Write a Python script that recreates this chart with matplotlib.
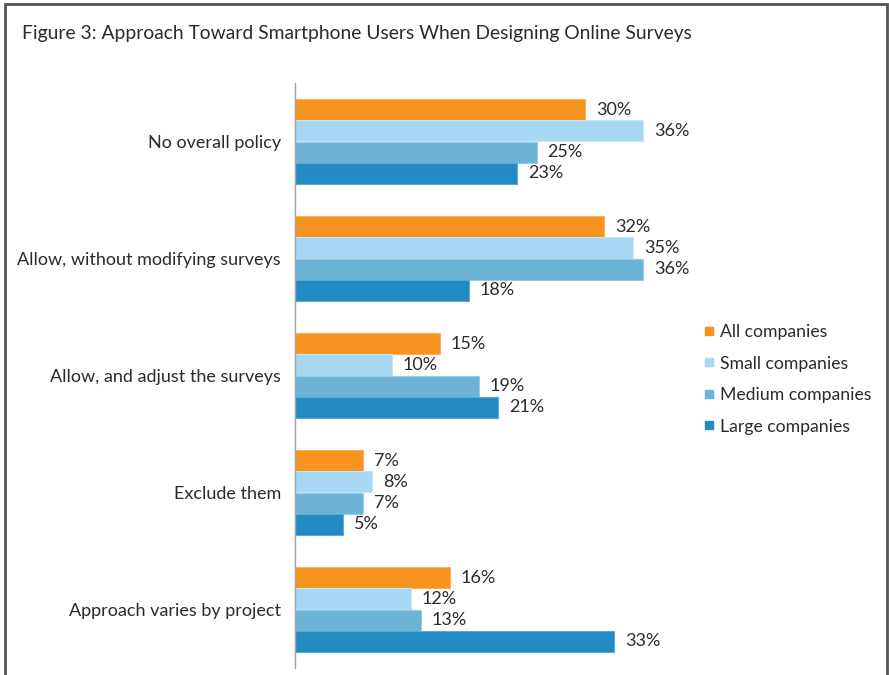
import numpy as np
import matplotlib.pyplot as plt
from matplotlib.lines import Line2D
from matplotlib.patches import Rectangle

plt.rcParams['font.family'] = ['Lato', 'DejaVu Sans']

categories = ['No overall policy', 'Allow, without modifying surveys',
              'Allow, and adjust the surveys', 'Exclude them',
              'Approach varies by project']
series_names = ['All companies', 'Small companies', 'Medium companies', 'Large companies']
all_cos = [30, 32, 15, 7, 16]
small_cos = [36, 35, 10, 8, 12]
medium_cos = [25, 36, 19, 7, 13]
large_cos = [23, 18, 21, 5, 33]

colors = ['#F7931E', '#A7D8F3', '#6DB3D7', '#238BC4']
edges = ['#F9B060', '#C4E6F8', '#98CBE5', '#5CA9D6']
text_color = '#2b2b2b'

W, H = 889, 675
fig = plt.figure(figsize=(W / 100, H / 100), dpi=100)

# frame around the whole figure
fig.add_artist(Rectangle((5 / W, -0.05), 882 / W, 1.05 - 3.5 / H,
                         transform=fig.transFigure, fill=False,
                         edgecolor='#555555', linewidth=2))

fig.text(22 / W, 1 - 34 / H, 'Figure 3: Approach Toward Smartphone Users When Designing Online Surveys',
         fontsize=13.9, color=text_color, va='center', ha='left')

# axes: x=0 at 295px, 40% at ~682px; y from 83px to 668px
ax = fig.add_axes([295 / W, 1 - 668 / H, 386.7 / W, (668 - 83) / H])
ax.set_xlim(0, 40)
ax.set_ylim(4.5, -0.5)

h = 0.1816
y = np.arange(len(categories))
data = [all_cos, small_cos, medium_cos, large_cos]
for i, vals in enumerate(data):
    pos = y + (i - 1.5) * h
    ax.barh(pos, vals, height=h, color=colors[i], edgecolor=edges[i],
            linewidth=0.8, label=series_names[i])
    for p, v in zip(pos, vals):
        ax.annotate(f'{v}%', (v, p), xytext=(11, 0), textcoords='offset pixels',
                    va='center', ha='left', fontsize=13, color=text_color)

ax.set_yticks(y)
ax.set_yticklabels(categories, fontsize=13, color=text_color)
ax.tick_params(axis='y', length=0, pad=10)
ax.set_xticks([])
for s in ['top', 'right', 'bottom']:
    ax.spines[s].set_visible(False)
ax.spines['left'].set_color('#a0a0a0')
ax.spines['left'].set_linewidth(1)

handles = [Line2D([], [], marker='s', linestyle='none', markersize=6,
                  markerfacecolor=c, markeredgecolor=c) for c in colors]
leg = fig.legend(handles, series_names, loc='upper left',
                 bbox_to_anchor=(704 / W, 1 - 324 / H), frameon=False,
                 fontsize=12.7, handlelength=0.6, handletextpad=0.3,
                 labelspacing=0.88, borderaxespad=0, borderpad=0)
for t in leg.get_texts():
    t.set_color(text_color)

fig.savefig('out.png', dpi=100, facecolor='white')
